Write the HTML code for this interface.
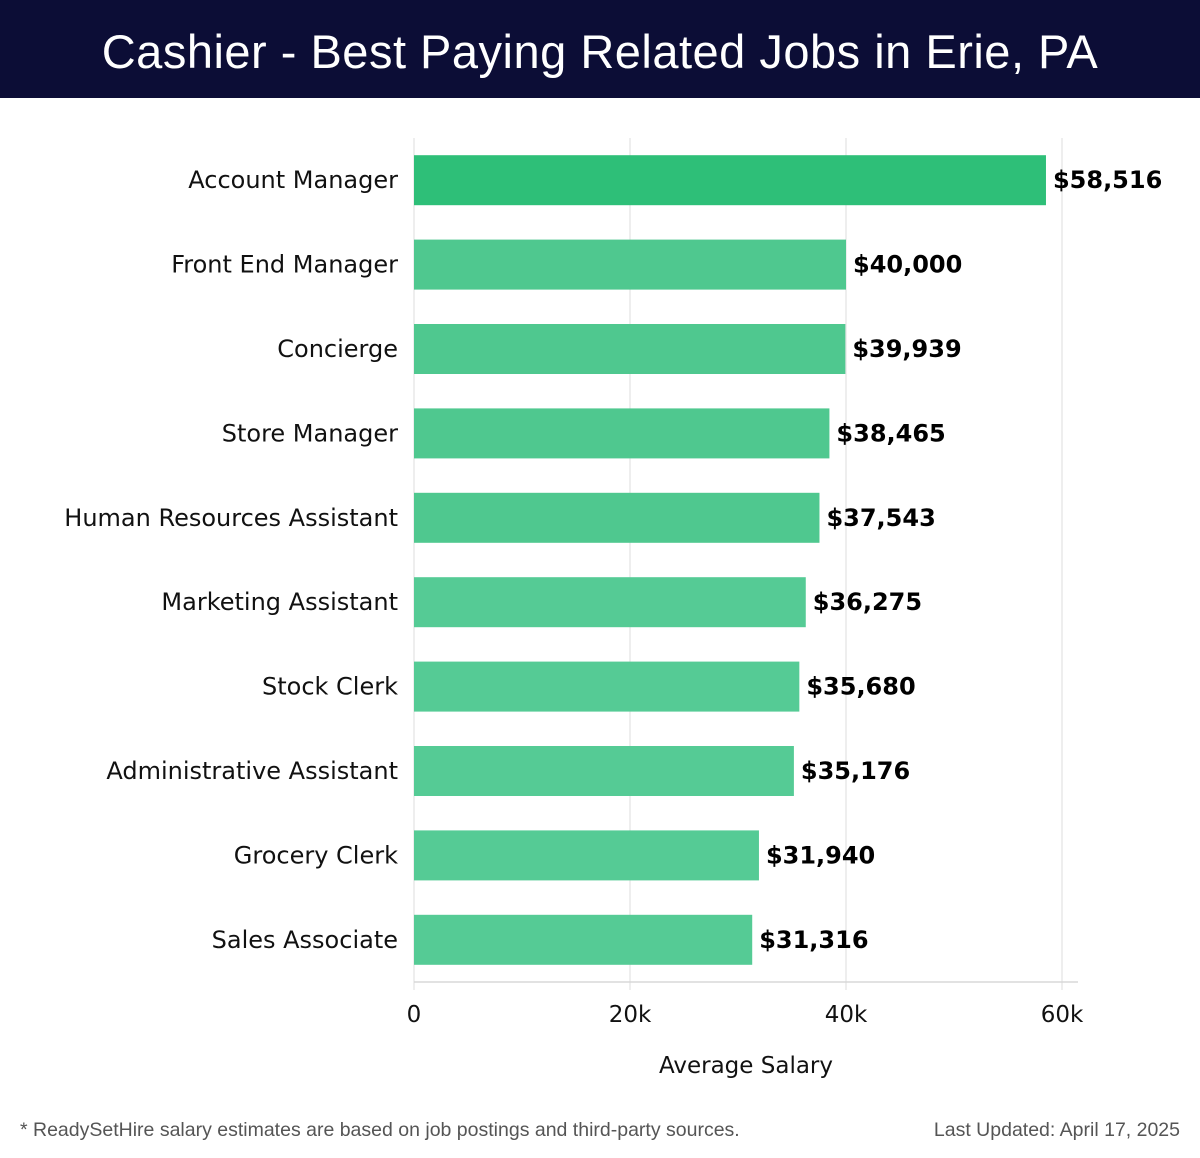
<!DOCTYPE html>
<html><head><meta charset="utf-8"><style>
body{margin:0;width:1200px;height:1158px;background:#fff;font-family:"Liberation Sans","DejaVu Sans",sans-serif;overflow:hidden}
</style></head><body>
<div style="position:absolute;left:0;top:0;width:1200px;height:98px;background:#0c0d36;color:#fff;font-size:47px;letter-spacing:0.5px;text-align:center;line-height:104px">Cashier - Best Paying Related Jobs in Erie, PA</div>
<svg id="chart" width="1200" height="1158" style="position:absolute;left:0;top:0;font-family:'DejaVu Sans',sans-serif"></svg>
<div style="position:absolute;left:20px;top:1119px;font-size:19.5px;color:#555">* ReadySetHire salary estimates are based on job postings and third-party sources.</div>
<div style="position:absolute;right:20px;top:1119px;font-size:19.5px;color:#555">Last Updated: April 17, 2025</div>
<script>
const categories=["Account Manager","Front End Manager","Concierge","Store Manager","Human Resources Assistant","Marketing Assistant","Stock Clerk","Administrative Assistant","Grocery Clerk","Sales Associate"];
const values=[58516,40000,39939,38465,37543,36275,35680,35176,31940,31316];
const labels=["$58,516","$40,000","$39,939","$38,465","$37,543","$36,275","$35,680","$35,176","$31,940","$31,316"];
const ticks=[0,20000,40000,60000];
const tickLabels=["0","20k","40k","60k"];
const svg=document.getElementById('chart');
const NS='http://www.w3.org/2000/svg';
const x0=414,pxPer=216/20000,top0=138,bottom=982;
const xs=v=>x0+v*pxPer;
const band=(bottom-top0)/categories.length;
function mk(t,a){const e=document.createElementNS(NS,t);for(const k in a)e.setAttribute(k,a[k]);svg.appendChild(e);return e;}
ticks.forEach((t,i)=>{
 const g=mk('line',{x1:xs(t),x2:xs(t),y1:top0,y2:bottom+8,stroke:'#dcdcdc','stroke-width':1});
 
 
 const tx=mk('text',{x:xs(t),y:1022,'text-anchor':'middle','font-size':23,fill:'#111'});
 tx.textContent=tickLabels[i];
 
 
});
const ax=mk('line',{x1:x0,x2:1078,y1:bottom,y2:bottom,stroke:'#d8d8d8','stroke-width':1.5});


categories.forEach((c,i)=>{
 const cy=top0+band*i+band/2;
 const r=mk('rect',{x:x0,y:cy-25,width:xs(values[i])-x0,height:50,fill:i==0?'#2ebf78':(i<5?'#4fc88f':'#55cb95')});
 
 
 const l=mk('text',{x:398,y:cy+8,'text-anchor':'end','font-size':24,fill:'#111'});
 l.textContent=c;
 
 
 const v=mk('text',{x:xs(values[i])+7,y:cy+8,'font-size':24,'font-weight':'bold',fill:'#000'});
 v.textContent=labels[i];
 
 
});
const at=mk('text',{x:746,y:1073,'text-anchor':'middle','font-size':23,fill:'#111'});
at.textContent='Average Salary';


</script>
</body></html>
